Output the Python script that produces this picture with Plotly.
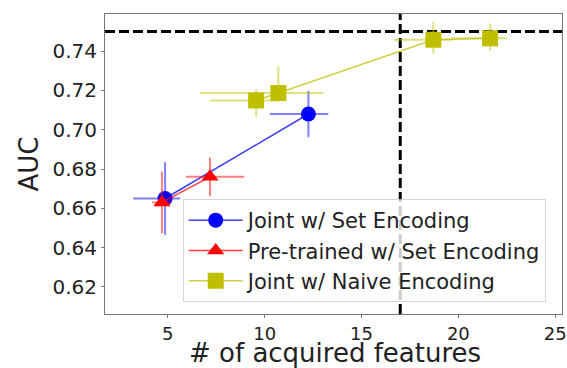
import plotly.graph_objects as go

# ---- data ----
blue_x = [4.86, 12.26]
blue_y = [0.665, 0.708]
blue_xerr_minus = [1.64, 1.98]
blue_xerr_plus = [0.78, 1.03]
blue_yerr = [0.0185, 0.0118]

red_x = [4.70, 7.18]
red_y = [0.663, 0.676]
red_xerr_minus = [0.5, 1.24]
red_xerr_plus = [0.5, 1.77]
red_yerr = [0.0157, 0.0098]

yel_x = [9.56, 10.71, 18.71, 21.64]
yel_y = [0.7149, 0.7187, 0.7458, 0.7465]
yel_xerr_minus = [2.4, 4.04, 2.06, 2.0]
yel_xerr_plus = [1.2, 2.32, 1.0, 0.87]
yel_yerr_plus = [0.0055, 0.0136, 0.0091, 0.0076]
yel_yerr_minus = [0.0084, 0.004, 0.007, 0.006]

hline_y = 0.75
vline_x = 17

names = ["Joint w/ Set Encoding", "Pre-trained w/ Set Encoding", "Joint w/ Naive Encoding"]
x_ticks = [5, 10, 15, 20, 25]
y_ticks = [0.62, 0.64, 0.66, 0.68, 0.70, 0.72, 0.74]
x_title = "# of acquired features"
y_title = "AUC"

FONT = "DejaVu Sans"

fig = go.Figure()

def add(x, y, exm, exp, eym, eyp, color, rgba_err, rgba_line, symbol, size, name):
    fig.add_trace(go.Scatter(
        x=x, y=y, name=name, mode="lines+markers",
        line=dict(color=rgba_line, width=1.5),
        marker=dict(color=color, symbol=symbol, size=size, line=dict(width=0)),
        error_x=dict(type="data", symmetric=False, array=exp, arrayminus=exm,
                     color=rgba_err, thickness=2, width=0),
        error_y=dict(type="data", symmetric=False, array=eyp, arrayminus=eym,
                     color=rgba_err, thickness=2, width=0),
    ))

add(blue_x, blue_y, blue_xerr_minus, blue_xerr_plus, blue_yerr, blue_yerr,
    "#0000ff", "rgba(0,0,255,0.5)", "rgba(0,0,255,0.75)", "circle", 15, names[0])
add(red_x, red_y, red_xerr_minus, red_xerr_plus, red_yerr, red_yerr,
    "#ff0000", "rgba(255,0,0,0.5)", "rgba(255,0,0,0.75)", "triangle-up", 15, names[1])
add(yel_x, yel_y, yel_xerr_minus, yel_xerr_plus, yel_yerr_minus, yel_yerr_plus,
    "#bfbf00", "rgba(191,191,0,0.5)", "rgba(191,191,0,0.75)", "square", 16, names[2])

fig.add_shape(type="line", xref="paper", yref="y", x0=0, x1=1, y0=hline_y, y1=hline_y,
              line=dict(color="black", width=3, dash="10px,4px"), layer="below")
fig.add_shape(type="line", xref="x", yref="paper", x0=vline_x, x1=vline_x, y0=0, y1=1,
              line=dict(color="black", width=3, dash="10px,4px"), layer="below")

axis_common = dict(showgrid=False, zeroline=False, showline=True, mirror=True,
                   linecolor="#777", linewidth=1, ticks="outside", ticklen=3,
                   tickcolor="#777", automargin=False)

fig.add_annotation(text=x_title, xref="paper", yref="paper", x=0.504, y=-0.131,
                   xanchor="center", yanchor="middle", showarrow=False,
                   font=dict(family=FONT, size=26, color="#222"))

fig.update_layout(
    width=567, height=368,
    margin=dict(l=105, r=5, t=14, b=54),
    paper_bgcolor="white", plot_bgcolor="white",
    font=dict(family=FONT, color="#222"),
    xaxis=dict(range=[1.76, 25.35], tickvals=x_ticks,
               tickfont=dict(family=FONT, size=18, color="#222"),
               **axis_common),
    yaxis=dict(range=[0.6062, 0.7589], tickvals=y_ticks, tickformat=".2f",
               tickfont=dict(family=FONT, size=20, color="#222"),
               title=dict(text=y_title, font=dict(family=FONT, size=26, color="#222"), standoff=6),
               **axis_common),
    legend=dict(x=0.17, y=0.04, xanchor="left", yanchor="bottom",
                bgcolor="rgba(255,255,255,0.8)", bordercolor="rgba(204,204,204,0.8)", borderwidth=1,
                itemwidth=54,
                font=dict(family=FONT, size=21, color="#222"), tracegroupgap=4),
    showlegend=True,
)

fig.write_html("out.html", config={"displayModeBar": False},
               post_script="document.body.style.margin='0';document.body.style.overflow='hidden';")
